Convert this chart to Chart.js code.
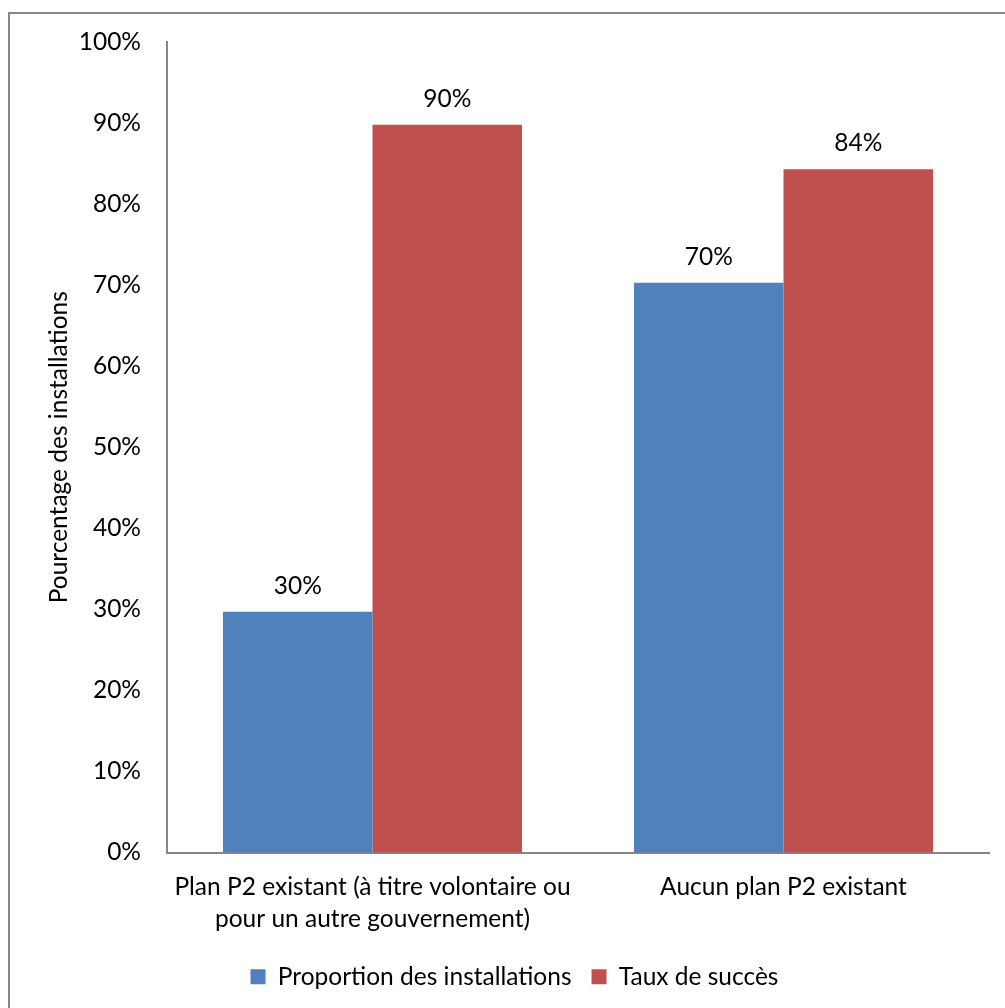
<!DOCTYPE html>
<html>
<head>
<meta charset="utf-8">
<script src="https://cdn.jsdelivr.net/npm/chart.js@4/dist/chart.umd.min.js"></script>
<style>
  html, body { margin: 0; padding: 0; background: #fff; overflow: hidden; }
  #frame { position: absolute; left: 8px; top: 12px; width: 2000px; height: 2000px;
           border-left: 2px solid #878787; border-top: 2px solid #878787; }
  #wrap { position: absolute; left: 0; top: 0; width: 1005px; height: 1008px; }
</style>
</head>
<body>
<div id="frame"></div>
<div id="wrap"><canvas id="chart"></canvas></div>
<script>
// categories and series (percent)
var categories = [
  ['Plan P2 existant (à titre volontaire ou', 'pour un autre gouvernement)'],
  'Aucun plan P2 existant'
];
var proportionValues = [29.7, 70.3];
var successValues = [89.8, 84.3];
var seriesNames = ['Proportion des installations', 'Taux de succès'];
var seriesColors = ['#4F81BD', '#C0504D'];

var fontSize = 24.5;
Chart.defaults.font.family = 'Lato, "Open Sans", sans-serif';
Chart.defaults.font.size = fontSize;
Chart.defaults.color = '#000';

// value labels above each bar
var barValues = {
  id: 'barValues',
  afterDatasetsDraw: function(chart) {
    var ctx = chart.ctx;
    ctx.save();
    ctx.font = fontSize + 'px Lato, "Open Sans", sans-serif';
    ctx.fillStyle = '#000';
    ctx.textAlign = 'center';
    ctx.textBaseline = 'middle';
    chart.data.datasets.forEach(function(ds, i) {
      var meta = chart.getDatasetMeta(i);
      meta.data.forEach(function(bar, j) {
        ctx.fillText(Math.round(ds.data[j]) + '%', bar.x, bar.y - 26);
      });
    });
    ctx.restore();
  }
};

var ctx = document.getElementById('chart').getContext('2d');
new Chart(ctx, {
  type: 'bar',
  data: {
    labels: categories,
    datasets: [
      { label: seriesNames[0], data: proportionValues, backgroundColor: seriesColors[0] },
      { label: seriesNames[1], data: successValues, backgroundColor: seriesColors[1] }
    ]
  },
  plugins: [barValues],
  options: {
    responsive: true,
    maintainAspectRatio: false,
    animation: false,
    categoryPercentage: 0.7275,
    barPercentage: 1,
    layout: { padding: { left: 40, right: 16, top: 42, bottom: 9 } },
    plugins: {
      tooltip: { enabled: false },
      legend: {
        position: 'bottom',
        labels: { boxWidth: 15, boxHeight: 15, padding: 20, color: '#000' }
      }
    },
    scales: {
      x: {
        grid: { display: false, drawTicks: false },
        border: { color: '#868686', width: 2 },
        ticks: { padding: 19, maxRotation: 0, font: { lineHeight: 1.306 } },
        afterFit: function(scale) { scale.height = 92; }
      },
      y: {
        min: 0,
        max: 100,
        grid: { display: false, drawTicks: false },
        border: { color: '#868686', width: 2 },
        ticks: { stepSize: 10, padding: 26, callback: function(v) { return v + '%'; } },
        title: { display: true, text: 'Pourcentage des installations', padding: { top: 4, bottom: 0 } },
        afterFit: function(scale) { scale.width = 127; }
      }
    }
  }
});
</script>
</body>
</html>
